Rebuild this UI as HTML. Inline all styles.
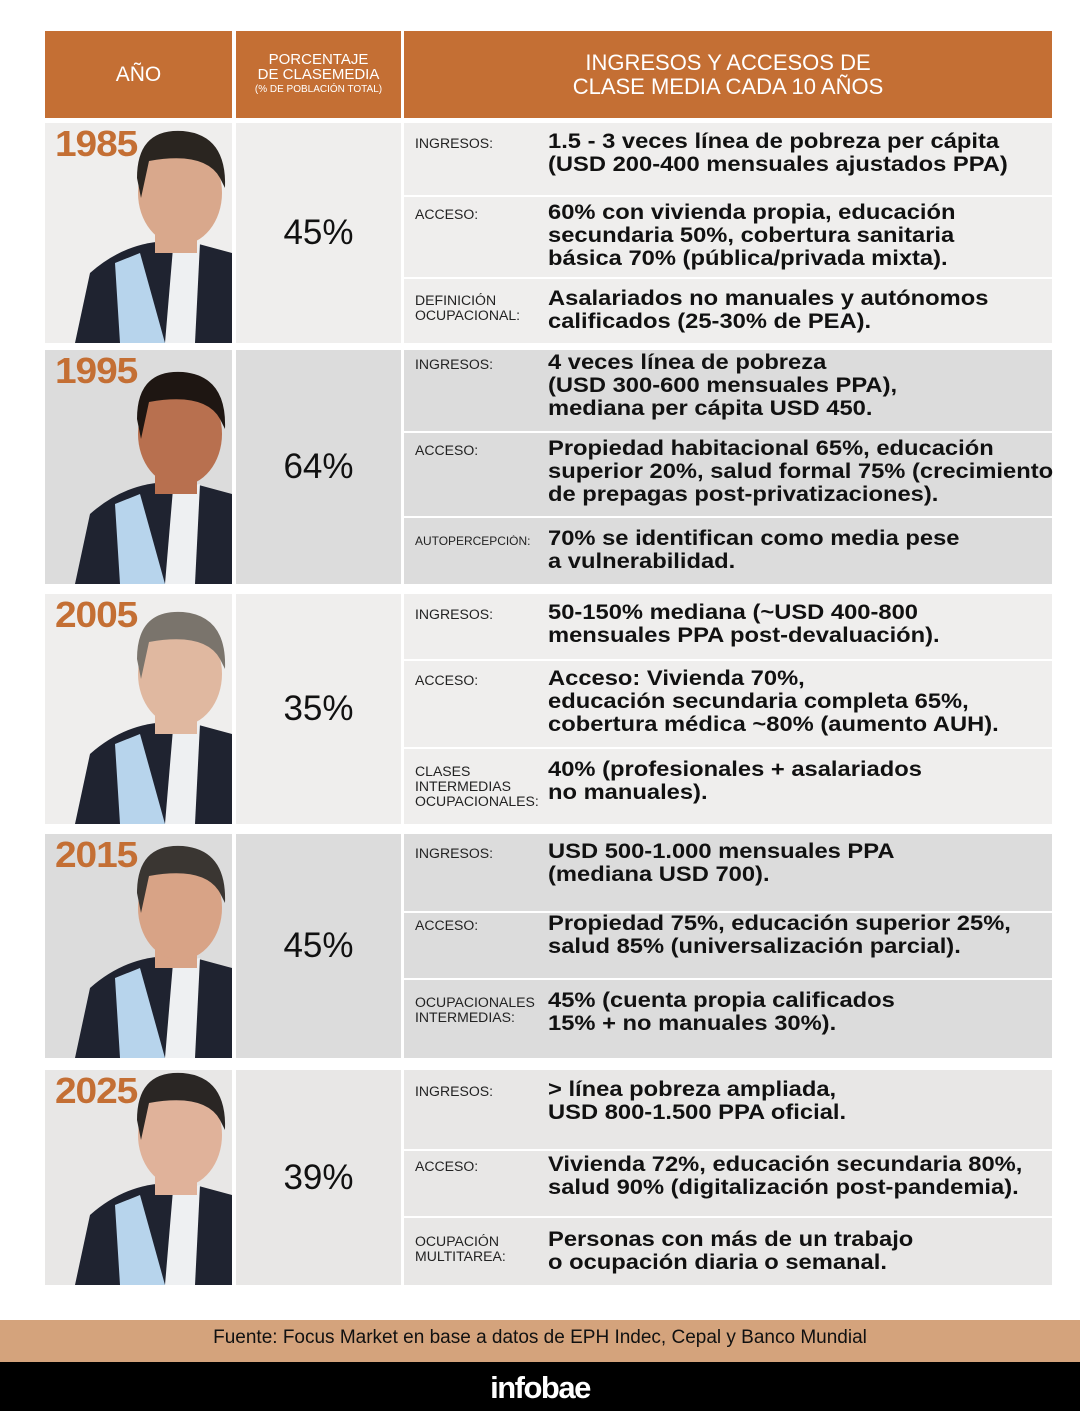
<!DOCTYPE html>
<html><head><meta charset="utf-8"><style>
*{margin:0;padding:0;box-sizing:border-box}
body{width:1080px;height:1411px;background:#fff;position:relative;font-family:"Liberation Sans",sans-serif;overflow:hidden}
.a{position:absolute}
.h{background:#c46f34;color:#fff;text-align:center;display:flex;flex-direction:column;justify-content:center;align-items:center}
.yr{font-weight:bold;color:#c46f34;font-size:36px;letter-spacing:-1px;z-index:2;transform:scaleX(1.08);transform-origin:left}
.pct{font-size:35px;color:#111;text-align:center}
.lb{font-size:13.5px;color:#222;line-height:15px;transform:scaleX(1.04);transform-origin:left}
.v{font-size:21px;font-weight:bold;color:#111;line-height:23px;transform:scaleX(1.13);transform-origin:left}
.sep{height:2px;background:#fff}
</style></head><body>
<div class="a h" style="left:45px;top:31px;width:187px;height:87px;font-size:21px">AÑO</div>
<div class="a h" style="left:236px;top:31px;width:165px;height:87px;font-size:15px;line-height:15px">PORCENTAJE<br>DE CLASEMEDIA<span style="font-size:10px">(% DE POBLACIÓN TOTAL)</span></div>
<div class="a h" style="left:404px;top:31px;width:648px;height:87px;font-size:22px;line-height:24px">INGRESOS Y ACCESOS DE<br>CLASE MEDIA CADA 10 AÑOS</div>

<div id="rows"></div>
<script>
const rows=[
{y:123,h:220,yr:"1985",p:"45%",bg:"#efeeed",d:[196,278],sk:"#d9a88c",hair:"#2a2520",
 s:[["INGRESOS:","1.5 - 3 veces línea de pobreza per cápita<br>(USD 200-400 mensuales ajustados PPA)",137],
    ["ACCESO:","60% con vivienda propia, educación<br>secundaria 50%, cobertura sanitaria<br>básica 70% (pública/privada mixta).",208],
    ["DEFINICIÓN<br>OCUPACIONAL:","Asalariados no manuales y autónomos<br>calificados (25-30% de PEA).",294]]},
{y:350,h:234,yr:"1995",p:"64%",bg:"#dcdcdc",d:[432,517],sk:"#b8704f",hair:"#1e1612",
 s:[["INGRESOS:","4 veces línea de pobreza<br>(USD 300-600 mensuales PPA),<br>mediana per cápita USD 450.",358],
    ["ACCESO:","Propiedad habitacional 65%, educación<br>superior 20%, salud formal 75% (crecimiento<br>de prepagas post-privatizaciones).",444],
    ["<span style='font-size:11.5px'>AUTOPERCEPCIÓN:</span>","70% se identifican como media pese<br>a vulnerabilidad.",534]]},
{y:594,h:230,yr:"2005",p:"35%",bg:"#efeeed",d:[660,748],sk:"#e0b8a0",hair:"#7a746c",
 s:[["INGRESOS:","50-150% mediana (~USD 400-800<br>mensuales PPA post-devaluación).",608],
    ["ACCESO:","Acceso: Vivienda 70%,<br>educación secundaria completa 65%,<br>cobertura médica ~80% (aumento AUH).",674],
    ["CLASES<br>INTERMEDIAS<br>OCUPACIONALES:","40% (profesionales + asalariados<br>no manuales).",765]]},
{y:834,h:224,yr:"2015",p:"45%",bg:"#dcdcdc",d:[912,979],sk:"#d8a386",hair:"#3a3632",
 s:[["INGRESOS:","USD 500-1.000 mensuales PPA<br>(mediana USD 700).",847],
    ["ACCESO:","Propiedad 75%, educación superior 25%,<br>salud 85% (universalización parcial).",919],
    ["OCUPACIONALES<br>INTERMEDIAS:","45% (cuenta propia calificados<br>15% + no manuales 30%).",996]]},
{y:1070,h:215,yr:"2025",p:"39%",bg:"#e8e7e6",d:[1150,1217],sk:"#e0b29a",hair:"#2a2624",
 s:[["INGRESOS:","&gt; línea pobreza ampliada,<br>USD 800-1.500 PPA oficial.",1085],
    ["ACCESO:","Vivienda 72%, educación secundaria 80%,<br>salud 90% (digitalización post-pandemia).",1160],
    ["OCUPACIÓN<br>MULTITAREA:","Personas con más de un trabajo<br>o ocupación diaria o semanal.",1235]]}
];
let html="";
rows.forEach(r=>{
 const H=r.h;
 html+=`<div class="a" style="left:45px;top:${r.y}px;width:187px;height:${H}px;background:${r.bg};overflow:hidden">
 <svg width="187" height="${H}" style="position:absolute;left:0;top:0">
  <path d="M30 ${H} L45 ${H-70} Q90 ${H-110} 150 ${H-100} L187 ${H-90} L187 ${H} Z" fill="#1f2330"/>
  <path d="M75 ${H} L70 ${H-80} L95 ${H-90} L120 ${H} Z" fill="#b7d4ec"/>
  <path d="M120 ${H} L128 ${H-95} L155 ${H-100} L150 ${H} Z" fill="#eef0f2"/>
  <rect x="110" y="${H-145}" width="42" height="55" fill="${r.sk}"/>
  <ellipse cx="135" cy="${H-150}" rx="42" ry="52" fill="${r.sk}"/>
  <path d="M92 ${H-165} Q92 ${H-215} 138 ${H-212} Q182 ${H-208} 180 ${H-155} L175 ${H-165} Q160 ${H-192} 104 ${H-182} L96 ${H-145} Z" fill="${r.hair}"/>
 </svg>
 <div class="a yr" style="left:10px;top:0px">${r.yr}</div></div>
 <div class="a pct" style="left:236px;top:${r.y}px;width:165px;height:${H}px;background:${r.bg};line-height:${H}px">${r.p}</div>
 <div class="a" style="left:404px;top:${r.y}px;width:648px;height:${H}px;background:${r.bg}"></div>`;
 r.d.forEach(d=>{html+=`<div class="a sep" style="left:404px;top:${d-1}px;width:648px"></div>`;});
 r.s.forEach(s=>{
  html+=`<div class="a lb" style="left:415px;top:${s[2]-1}px">${s[0]}</div><div class="a v" style="left:548px;top:${s[2]-7}px;white-space:nowrap">${s[1]}</div>`;
 });
});
document.getElementById("rows").innerHTML=html;
</script>
<div class="a" style="left:0;top:1320px;width:1080px;height:42px;background:#d4a37c;color:#111;font-size:19px;text-align:center;line-height:36px">Fuente: Focus Market en base a datos de EPH Indec, Cepal y Banco Mundial</div>
<div class="a" style="left:0;top:1362px;width:1080px;height:49px;background:#000;color:#fff;font-size:31px;font-weight:bold;text-align:center;line-height:52px;letter-spacing:-1.5px">infobae</div>
</body></html>
